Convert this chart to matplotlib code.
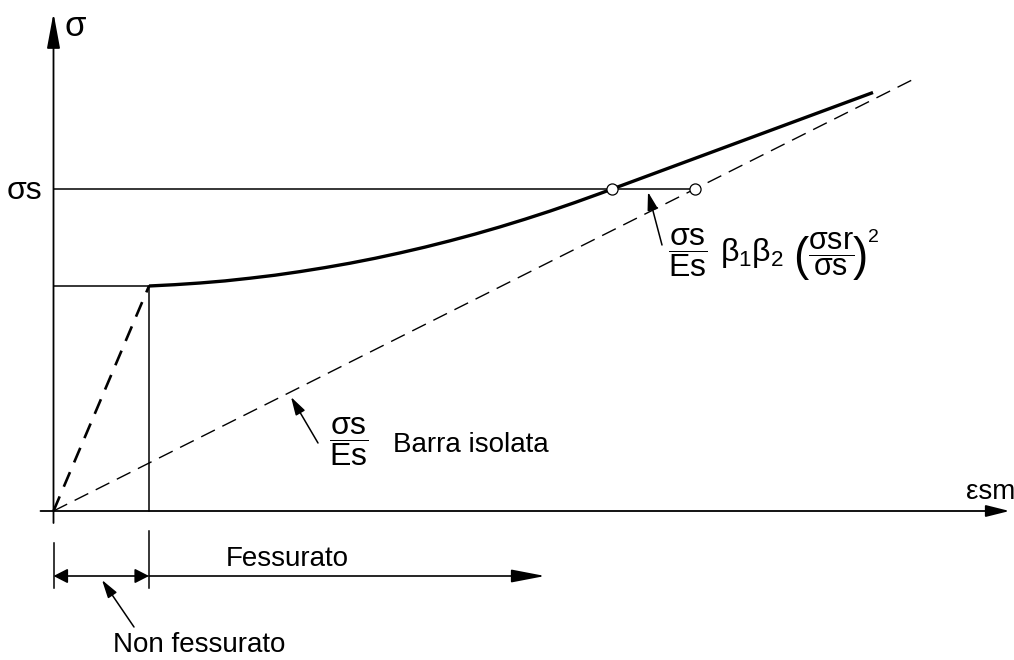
import matplotlib
matplotlib.use("Agg")
import matplotlib.pyplot as plt

plt.rcParams['font.family'] = ['Liberation Sans', 'DejaVu Sans']
plt.rcParams['mathtext.fontset'] = 'custom'
plt.rcParams['mathtext.rm'] = 'Liberation Sans'
plt.rcParams['mathtext.it'] = 'Liberation Sans'
plt.rcParams['mathtext.bf'] = 'Liberation Sans:bold'

# diagramma schematico (unita' arbitrarie, origine all'incrocio degli assi)
eps_cr = 95.5      # deformazione alla prima fessurazione
sig_sr = 225       # tensione di fessurazione
sig_s = 322        # tensione di esercizio

# ramo non fessurato
eps_unc = [0, eps_cr]
sig_unc = [0, sig_sr]

# curva eps_sm (tension stiffening)
eps_curve = [95.5, 121, 146.5, 171.5, 196.5, 221.5, 246.5, 271.5, 296.5,
             321.5, 346.5, 371.5, 396.5, 421.5, 446.5, 471.5, 496.5, 521.5,
             546.5, 596.5, 646.5, 696.5, 746.5, 819.5]
sig_curve = [225, 226.3, 228, 230.1, 232.8, 235.8, 239.4, 243.4, 247.8,
             252.7, 258.1, 263.9, 270.2, 276.9, 284.1, 291.8, 299.9, 308.5,
             317.5, 336, 354.5, 373, 391.5, 418.5]

# barra isolata sigma_s / E_s
eps_bar = [0, 858.5]
sig_bar = [0, 431]

# punti evidenziati a sigma_s
eps_pts = [558.5, 641.5]
sig_pts = [sig_s, sig_s]

# quote sotto l'asse
y_dim = -65
eps_fess_end = 491.5

fig = plt.figure(figsize=(10.14, 6.6), dpi=100)
ax = fig.add_axes([0, 0, 1, 1])
ax.set_xlim(-53.5, 960.5)
ax.set_ylim(-149, 511)
ax.axis('off')

k = 'black'


def arrow(x0, y0, x1, y1, style, lw=1.2):
    ax.annotate('', xy=(x1, y1), xytext=(x0, y0),
                arrowprops=dict(arrowstyle=style, color=k, lw=lw,
                                shrinkA=0, shrinkB=0, mutation_scale=20))


# assi
arrow(0, -12, 0, 498, '-|>,head_length=1.08,head_width=0.2', lw=1.3)
arrow(-13, 0, 956, 0, '-|>,head_length=0.72,head_width=0.18', lw=1.3)

# linee di riferimento
ax.plot([0, eps_cr], [sig_sr, sig_sr], color=k, lw=1.1)
ax.plot([eps_cr, eps_cr], [0, sig_sr], color=k, lw=1.1)
ax.plot([0, eps_pts[1]], [sig_s, sig_s], color=k, lw=1.1)

# curve
ax.plot(eps_unc, sig_unc, color=k, lw=1.9, dashes=(6, 4))
ax.plot(eps_bar, sig_bar, color=k, lw=1.0, dashes=(11, 6))
ax.plot(eps_curve, sig_curve, color=k, lw=2.4, solid_capstyle='butt',
        solid_joinstyle='round')
ax.plot(eps_pts, sig_pts, 'o', mfc='white', mec=k, ms=8, mew=0.9, zorder=5)

# etichette assi
ax.text(21.5, 485, 'σ', fontsize=25, ha='center', va='center')
ax.text(-11, 320, 'σs', fontsize=23, ha='right', va='center')
ax.text(937, 19, 'εsm', fontsize=20, ha='center', va='center')

# formula tension stiffening (a pezzi, per le parentesi grandi)
ax.text(614.5, 258, r'$\dfrac{\sigma s}{Es}$', fontsize=23, ha='left', va='center')
ax.text(666.5, 258, r'$\beta_1\beta_2$', fontsize=23, ha='left', va='center')
ax.text(747.5, 253, '(', fontsize=33, ha='center', va='center')
ax.text(777.5, 257, r'$\dfrac{\sigma sr}{\sigma s}$', fontsize=22, ha='center', va='center')
ax.text(806.5, 253, ')', fontsize=33, ha='center', va='center')
ax.text(819.5, 273, '2', fontsize=14, ha='center', va='center')
arrow(608.5, 266, 594.5, 319, '-|>,head_length=0.55,head_width=0.16', lw=1.1)

# barra isolata
ax.text(275.5, 69, r'$\dfrac{\sigma s}{Es}$', fontsize=23, ha='left', va='center')
ax.text(339.5, 66, 'Barra isolata', fontsize=20, ha='left', va='center')
arrow(264.5, 68, 237.5, 114, '-|>,head_length=0.55,head_width=0.16', lw=1.1)

# quote
ax.plot([0, 0], [-32, -77], color=k, lw=1.1)
ax.plot([eps_cr, eps_cr], [-20, -77], color=k, lw=1.1)
arrow(0, y_dim, eps_cr, y_dim, '<|-|>,head_length=0.43,head_width=0.22', lw=1.2)
arrow(eps_cr, y_dim, eps_fess_end, y_dim, '-|>,head_length=1.04,head_width=0.2', lw=1.2)
ax.text(234, -48, 'Fessurato', fontsize=20, ha='center', va='center')
ax.text(145.5, -134, 'Non fessurato', fontsize=20, ha='center', va='center')
arrow(80.5, -116, 48.5, -69, '-|>,head_length=0.55,head_width=0.16', lw=1.1)

fig.savefig('out.png', dpi=100, facecolor='white')
